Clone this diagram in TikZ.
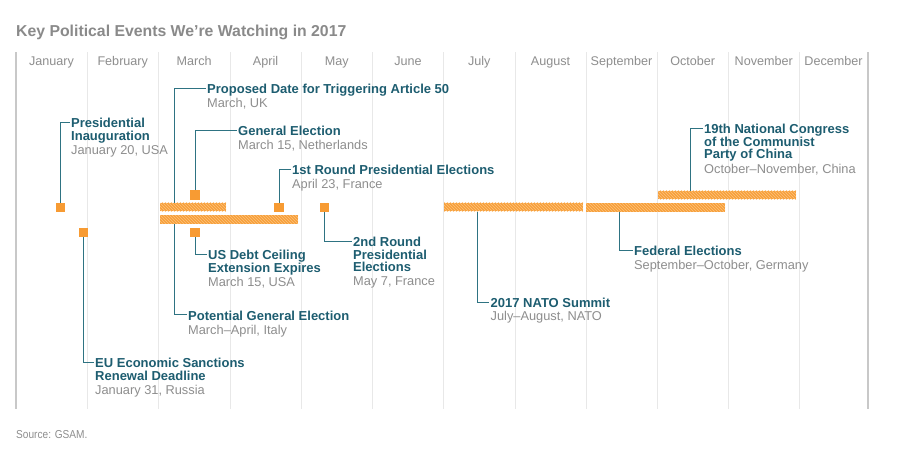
\documentclass[tikz,border=0pt]{standalone}
\usepackage{fontspec}
\setmainfont{Liberation Sans}
\newfontfamily\srcfont[FakeStretch=0.88]{Liberation Sans}
\usetikzlibrary{patterns}
\definecolor{tealtext}{HTML}{1D5D70}
\definecolor{tealline}{HTML}{2E7382}
\definecolor{graytext}{HTML}{8E8E8E}
\definecolor{titlegray}{HTML}{8A8A8A}
\definecolor{gridline}{HTML}{E8E8E8}
\definecolor{edgeline}{HTML}{C8C8C8}
\definecolor{orangesq}{HTML}{F79B33}
\definecolor{orangebar}{HTML}{F7A03A}
\definecolor{orangestripe}{HTML}{FCC27E}
\tikzset{
  lbl/.style={anchor=base west, align=left, inner sep=0pt, text=tealtext,
    font=\fontsize{13}{12.5}\selectfont\bfseries},
  sub/.style={anchor=base west, inner sep=0pt, text=graytext,
    font=\fontsize{12.8}{14}\selectfont},
  month/.style={anchor=base, inner sep=0pt, text=graytext,
    font=\fontsize{12.6}{14}\selectfont},
  sq/.style={fill=orangesq, draw=none, minimum width=9.5pt, minimum height=9.5pt, inner sep=0pt},
  bar/.style={fill=orangebar, draw=none, minimum height=8.5pt, inner sep=0pt,
    postaction={pattern=north west lines, pattern color=orangestripe}},
  conn/.style={draw=tealline, line width=0.9pt},
  grid/.style={draw=gridline, line width=0.9pt},
  edge/.style={draw=edgeline, line width=1.3pt},
  tip/.style={xshift=-1.5pt,yshift=-4.4pt}
}
\begin{document}
\begin{tikzpicture}[x=1pt,y=-1pt]
\useasboundingbox[fill=white] (0,0) rectangle (898,451);
% title
\node[anchor=base west, inner sep=0pt, text=titlegray, font=\fontsize{15.8}{18}\selectfont\bfseries] (title) at (16,36) {Key Political Events We’re Watching in 2017};
% grid
\foreach \x in {87,158.5,230,301,372.5,443.5,515,586,657,728.5,799} {
  \draw[grid] (\x,52) -- (\x,409);
}
\draw[edge] (16,52) -- (16,409);
\draw[edge] (868,52) -- (868,409);
% months
\node[month] (m1) at (51.5,65) {January};
\node[month] (m2) at (122.75,65) {February};
\node[month] (m3) at (194.25,65) {March};
\node[month] (m4) at (265.5,65) {April};
\node[month] (m5) at (336.75,65) {May};
\node[month] (m6) at (408,65) {June};
\node[month] (m7) at (479.25,65) {July};
\node[month] (m8) at (550.5,65) {August};
\node[month] (m9) at (621.5,65) {September};
\node[month] (m10) at (692.75,65) {October};
\node[month] (m11) at (763.75,65) {November};
\node[month] (m12) at (833.5,65) {December};
% bars
\node[bar, minimum width=66pt] (barUK) at (193,207) {};
\node[bar, minimum width=138pt] (barIT) at (229,219.5) {};
\node[bar, minimum width=139pt] (barNATO) at (513.5,207.2) {};
\node[bar, minimum width=139pt] (barDE) at (655.5,207.5) {};
\node[bar, minimum width=138pt] (barCN) at (727,195.2) {};
% squares
\node[sq] (sqInaug) at (60.5,207.5) {};
\node[sq] (sqEU) at (83.5,232.5) {};
\node[sq] (sqNL) at (195,195) {};
\node[sq] (sqUS) at (195,232.5) {};
\node[sq] (sqFRa) at (279,207.5) {};
\node[sq] (sqFRb) at (324.5,207.5) {};
% labels (multi-line ones placed by the baseline of their last line)
\node[lbl] (lInaug) at (71,140.3) {Presidential\\Inauguration};
\node[sub] (sInaug) at (71,154.5) {January 20, USA};
\node[lbl] (lUK) at (207,93.3) {Proposed Date for Triggering Article 50};
\node[sub] (sUK) at (207,107.3) {March, UK};
\node[lbl] (lNL) at (238,135.3) {General Election};
\node[sub] (sNL) at (238,149.3) {March 15, Netherlands};
\node[lbl] (lFRa) at (292,174.3) {1st Round Presidential Elections};
\node[sub] (sFRa) at (292,188.5) {April 23, France};
\node[lbl] (lUS) at (208,272) {US Debt Ceiling\\Extension Expires};
\node[sub] (sUS) at (208,286) {March 15, USA};
\node[lbl] (lFRb) at (353,271.7) {2nd Round\\Presidential\\Elections};
\node[sub] (sFRb) at (353,285.3) {May 7, France};
\node[lbl] (lIT) at (188,320) {Potential General Election};
\node[sub] (sIT) at (188,334) {March–April, Italy};
\node[lbl] (lEU) at (95,380.3) {EU Economic Sanctions\\Renewal Deadline};
\node[sub] (sEU) at (95,394.3) {January 31, Russia};
\node[lbl] (lCN) at (704,158.5) {19th National Congress\\of the Communist\\Party of China};
\node[sub] (sCN) at (704,173.3) {October–November, China};
\node[lbl] (lDE) at (634,255.7) {Federal Elections};
\node[sub] (sDE) at (634,269) {September–October, Germany};
\node[lbl] (lNATO) at (490.5,307.3) {2017 NATO Summit};
\node[sub] (sNATO) at (490.5,320.5) {July–August, NATO};
% connectors
\draw[conn] (sqInaug.north) |- ([tip]lInaug.north west);
\draw[conn] ([xshift=15pt]barUK.north west) |- ([tip]lUK.north west);
\draw[conn] (sqNL.north) |- ([tip]lNL.north west);
\draw[conn] (sqFRa.north) |- ([tip]lFRa.north west);
\draw[conn] (sqFRb.south) |- ([tip]lFRb.north west);
\draw[conn] (sqUS.south) |- ([tip]lUS.north west);
\draw[conn] ([xshift=15pt]barIT.south west) |- ([tip]lIT.north west);
\draw[conn] (sqEU.south) |- ([tip]lEU.north west);
\draw[conn] ([xshift=34pt]barNATO.south west) |- ([tip]lNATO.north west);
\draw[conn] ([xshift=34pt]barDE.south west) |- ([tip]lDE.north west);
\draw[conn] ([xshift=33pt]barCN.north west) |- ([tip]lCN.north west);
% source
\node[anchor=base west, inner sep=0pt, text=graytext, font=\srcfont\fontsize{11.5}{13}\selectfont] (src) at (16,438) {Source: GSAM.};
\end{tikzpicture}
\end{document}
